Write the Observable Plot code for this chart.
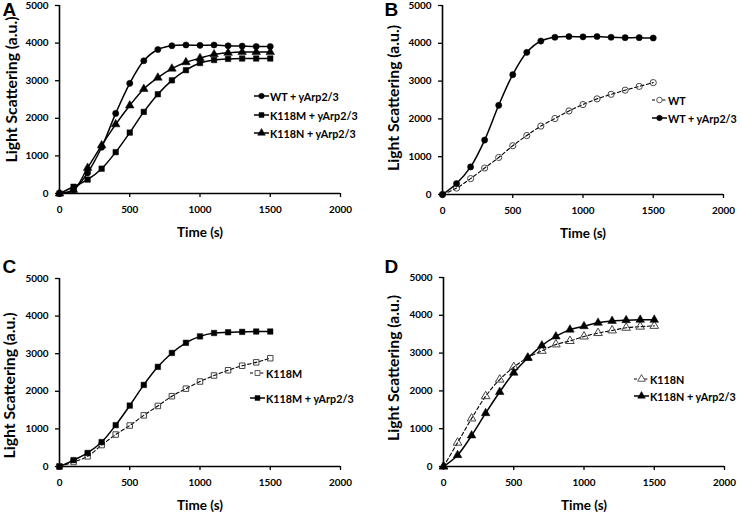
<!DOCTYPE html>
<html>
<head>
<meta charset="utf-8">
<script src="https://cdn.jsdelivr.net/npm/d3@7"></script>
<script src="https://cdn.jsdelivr.net/npm/@observablehq/plot@0.6"></script>
<style>
  html, body { margin: 0; padding: 0; background: #fff; }
  #root { position: relative; width: 742px; height: 512px; font-family: Lato, "Open Sans", sans-serif; }
  .panel { position: absolute; width: 371px; height: 256px; }
  .legend-item { position: absolute; display: flex; align-items: center; font-family: Lato, sans-serif; font-weight: bold; color: #000; white-space: nowrap; }
  .legend-item svg { display: block; margin-right: 1px; }
</style>
</head>
<body>
<div id="root"></div>
<script>
// ---- data ----
const time = [0, 100, 200, 300, 400, 500, 600, 700, 800, 900, 1000, 1100, 1200, 1300, 1400, 1500];
const xTicks = [0, 500, 1000, 1500, 2000];
const yTicks = [0, 1000, 2000, 3000, 4000, 5000];

const aWtArp    = [0, 100, 550, 1230, 2130, 2930, 3530, 3830, 3930, 3950, 3940, 3950, 3930, 3920, 3910, 3910];
const aK118mArp = [0, 180, 370, 660, 1100, 1620, 2170, 2640, 3010, 3280, 3470, 3550, 3580, 3590, 3590, 3590];
const aK118nArp = [0, 90, 680, 1280, 1840, 2340, 2780, 3080, 3320, 3490, 3600, 3700, 3740, 3760, 3760, 3760];

const bWt       = [0, 170, 420, 700, 980, 1290, 1560, 1810, 2010, 2210, 2380, 2530, 2650, 2760, 2860, 2960];
const bWtArp    = [0, 290, 730, 1440, 2360, 3170, 3760, 4060, 4160, 4180, 4170, 4180, 4160, 4150, 4150, 4140];

const cK118m    = [0, 120, 270, 570, 850, 1090, 1360, 1610, 1870, 2070, 2260, 2420, 2560, 2680, 2770, 2880];
const cK118mArp = [0, 170, 360, 650, 1100, 1620, 2170, 2650, 3020, 3290, 3460, 3550, 3570, 3580, 3590, 3590];

const dK118n    = [0, 630, 1270, 1860, 2300, 2630, 2880, 3060, 3230, 3320, 3440, 3530, 3600, 3670, 3700, 3720];
const dK118nArp = [0, 300, 820, 1410, 1970, 2480, 2870, 3200, 3440, 3620, 3710, 3800, 3850, 3870, 3880, 3880];

const panelLetters = ["A", "B", "C", "D"];
const xLabel = "Time (s)";
const yLabel = "Light Scattering (a.u.)";

// ---- text sizing: fit font sizes to the widths seen in the reference ----
const ctx = document.createElement("canvas").getContext("2d");
function fit(text, target, family = "Lato", weight = "bold") {
  ctx.font = `${weight} 100px ${family}`;
  const w = ctx.measureText(text).width;
  return w > 0 ? Math.max(8, Math.min(18, 100 * target / w)) : 12;
}
const yLabelSize = fit(yLabel, 146);
const xLabelSize = fit(xLabel, 46);
const tickSize = fit("5000", 23);
const legendSize = fit("K118M + yArp2/3", 88);

// ---- styles per series kind ----
const kinds = {
  wtArp:    {label: "WT + yArp2/3",    symbol: "circle",   open: false},
  k118mArp: {label: "K118M + yArp2/3", symbol: "square",   open: false},
  k118nArp: {label: "K118N + yArp2/3", symbol: "triangle", open: false},
  wt:       {label: "WT",              symbol: "circle",   open: true},
  k118m:    {label: "K118M",           symbol: "square",   open: true},
  k118n:    {label: "K118N",           symbol: "triangle", open: true}
};
const symbolR = {circle: 3.1, square: 3.1, triangle: 3.2};

function toRows(values) { return time.map((t, i) => ({t, v: values[i]})); }

function seriesMarks(values, kind) {
  const k = kinds[kind];
  const rows = toRows(values);
  const line = Plot.line(rows, {
    x: "t", y: "v", curve: "catmull-rom",
    stroke: "#000",
    strokeWidth: k.open ? 1.1 : 1.5,
    strokeDasharray: k.open ? "3.5,2.5" : null
  });
  const dots = Plot.dot(rows, {
    x: "t", y: "v", symbol: () => k.symbol, r: symbolR[k.symbol],
    fill: k.open ? "none" : "#000",
    stroke: k.open ? "#444" : "#000",
    strokeWidth: k.open ? 1 : 0.5
  });
  return [line, dots];
}

function makePanel(cfg) {
  const marks = [
    Plot.axisX({ticks: xTicks, tickSize: 4, tickPadding: 8, tickFormat: "d", label: null, fontSize: tickSize, fontWeight: "bold", strokeWidth: 1.3}),
    Plot.axisY({ticks: yTicks, tickSize: 4, tickPadding: 7, tickFormat: "d", label: null, fontSize: tickSize, fontWeight: "bold", strokeWidth: 1.3}),
    Plot.ruleX([0], {stroke: "#000", strokeWidth: 1.6}),
    Plot.ruleY([0], {stroke: "#000", strokeWidth: 1.6})
  ];
  for (const s of cfg.series) marks.push(...seriesMarks(s.values, s.kind));
  marks.push(
    Plot.text([xLabel], {text: d => d, frameAnchor: "bottom", textAnchor: "middle", dy: cfg.xLabelDy, fontSize: xLabelSize, fontWeight: "bold", lineAnchor: "middle"}),
    Plot.text([yLabel], {text: d => d, frameAnchor: "left", textAnchor: "middle", rotate: -90, dx: cfg.yLabelDx, dy: cfg.yLabelDy, fontSize: yLabelSize, fontWeight: "bold", lineAnchor: "middle"}),
    Plot.text([cfg.letter], {text: d => d, frameAnchor: "top-left", textAnchor: "start", lineAnchor: "top", dx: cfg.letterDx, dy: cfg.letterDy, fontSize: 19, fontWeight: "bold", fontFamily: "Liberation Sans, Arial, sans-serif"})
  );
  return Plot.plot({
    width: 371, height: 256,
    marginLeft: cfg.ml, marginRight: cfg.mr, marginTop: cfg.mt, marginBottom: cfg.mb,
    x: {domain: [0, 2000]},
    y: {domain: [0, 5000]},
    style: {fontFamily: "Lato, sans-serif", color: "#000", background: "transparent", overflow: "visible"},
    marks
  });
}

function swatch(kind) {
  const k = kinds[kind];
  const w = 15, h = 10, cx = w / 2, cy = h / 2;
  const ns = "http://www.w3.org/2000/svg";
  const svg = document.createElementNS(ns, "svg");
  svg.setAttribute("width", w); svg.setAttribute("height", h);
  const line = document.createElementNS(ns, "line");
  line.setAttribute("x1", 0); line.setAttribute("x2", w);
  line.setAttribute("y1", cy); line.setAttribute("y2", cy);
  line.setAttribute("stroke", "#000");
  line.setAttribute("stroke-width", k.open ? 1.1 : 1.5);
  if (k.open) line.setAttribute("stroke-dasharray", "3,2.2");
  svg.appendChild(line);
  const sym = d3.symbol().type(k.symbol === "circle" ? d3.symbolCircle : k.symbol === "square" ? d3.symbolSquare : d3.symbolTriangle)
    .size(Math.PI * symbolR[k.symbol] * symbolR[k.symbol] * 0.8);
  const p = document.createElementNS(ns, "path");
  p.setAttribute("d", sym());
  p.setAttribute("transform", `translate(${cx},${cy})`);
  p.setAttribute("fill", k.open ? "#fff" : "#000");
  p.setAttribute("stroke", k.open ? "#444" : "#000");
  p.setAttribute("stroke-width", k.open ? 0.9 : 0.5);
  svg.appendChild(p);
  return svg;
}

const root = document.getElementById("root");

const panels = [
  {left: 0, top: 0, letter: panelLetters[0], ml: 59, mr: 31, mt: 5, mb: 63,
   xLabelDy: 39, yLabelDx: -48, yLabelDy: -10, letterDx: -57, letterDy: -3,
   series: [{values: aWtArp, kind: "wtArp"}, {values: aK118mArp, kind: "k118mArp"}, {values: aK118nArp, kind: "k118nArp"}],
   legend: {x: 254, rows: [96, 115, 133]}},
  {left: 371, top: 0, letter: panelLetters[1], ml: 71, mr: 19, mt: 5, mb: 62,
   xLabelDy: 39, yLabelDx: -49, yLabelDy: -2, letterDx: -58, letterDy: -3,
   series: [{values: bWt, kind: "wt"}, {values: bWtArp, kind: "wtArp"}],
   legend: {x: 652, rows: [100, 118]}},
  {left: 0, top: 256, letter: panelLetters[2], ml: 59, mr: 31, mt: 22, mb: 46,
   xLabelDy: 39, yLabelDx: -50, yLabelDy: 13, letterDx: -57, letterDy: -19,
   series: [{values: cK118m, kind: "k118m"}, {values: cK118mArp, kind: "k118mArp"}],
   legend: {x: 250, rows: [373, 398]}},
  {left: 371, top: 256, letter: panelLetters[3], ml: 72, mr: 18, mt: 21, mb: 46,
   xLabelDy: 39, yLabelDx: -50, yLabelDy: -4, letterDx: -59, letterDy: -18,
   series: [{values: dK118n, kind: "k118n"}, {values: dK118nArp, kind: "k118nArp"}],
   legend: {x: 634, rows: [379, 396]}}
];

for (const cfg of panels) {
  const div = document.createElement("div");
  div.className = "panel";
  div.style.left = cfg.left + "px";
  div.style.top = cfg.top + "px";
  div.appendChild(makePanel(cfg));
  root.appendChild(div);
  cfg.series.forEach((s, i) => {
    const item = document.createElement("div");
    item.className = "legend-item";
    item.style.left = cfg.legend.x + "px";
    item.style.top = (cfg.legend.rows[i] - 7) + "px";
    item.style.height = "14px";
    item.style.fontSize = legendSize + "px";
    item.appendChild(swatch(s.kind));
    const span = document.createElement("span");
    span.textContent = kinds[s.kind].label;
    item.appendChild(span);
    root.appendChild(item);
  });
}
</script>
</body>
</html>
